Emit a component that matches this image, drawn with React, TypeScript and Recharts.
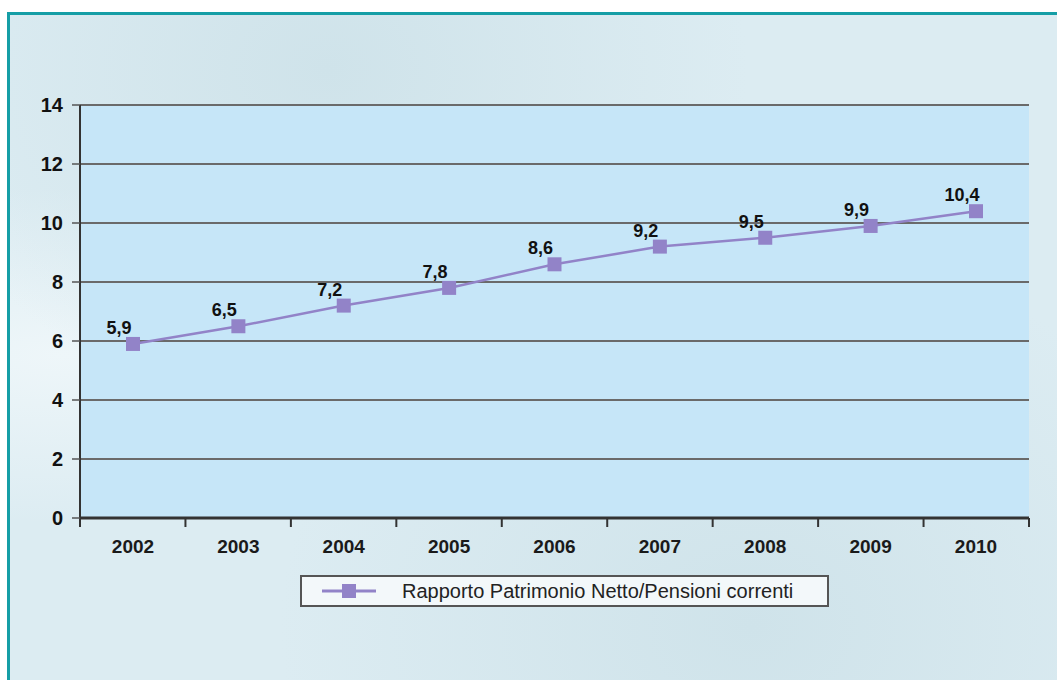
import { CartesianGrid, LabelList, Legend, Line, LineChart, XAxis, YAxis } from "recharts";

const years = ["2002", "2003", "2004", "2005", "2006", "2007", "2008", "2009", "2010"];
const ratio = [5.9, 6.5, 7.2, 7.8, 8.6, 9.2, 9.5, 9.9, 10.4];
const yTicks = [0, 2, 4, 6, 8, 10, 12, 14];
// tick marks sit between the years
const bandEdges = [-0.5, 0.5, 1.5, 2.5, 3.5, 4.5, 5.5, 6.5, 7.5, 8.5];
const seriesName = "Rapporto Patrimonio Netto/Pensioni correnti";

const data = years.map((year, i) => ({ year, idx: i, ratio: ratio[i] }));

const FONT = "'Liberation Sans', Arial, sans-serif";
const PURPLE = "#9283c8";

const Marker = (props: any) => {
  const { cx, cy } = props;
  if (cx == null || cy == null) return null;
  return <rect x={cx - 7} y={cy - 7} width={14} height={14} fill={PURPLE} />;
};

const ValueLabel = (props: any) => {
  const { x, y, value } = props;
  return (
    <text x={x - 14} y={y - 10} textAnchor="middle" fontFamily={FONT} fontWeight="bold" fontSize={18} fill="#111">
      {String(value).replace(".", ",")}
    </text>
  );
};

const LegendBox = () => (
  <div
    style={{
      width: 525,
      height: 28,
      border: "2px solid #555",
      background: "#f3f8fa",
      display: "flex",
      alignItems: "center",
      fontFamily: FONT,
      fontSize: 20,
      color: "#222",
    }}
  >
    <svg width={100} height={28}>
      <line x1={20} y1={14} x2={74} y2={14} stroke={PURPLE} strokeWidth={3} />
      <rect x={40} y={7} width={14} height={14} fill={PURPLE} />
    </svg>
    <span>{seriesName}</span>
  </div>
);

export default function App() {
  return (
    <div style={{ position: "absolute", left: 0, top: 0, width: 1057, height: 680, background: "#fff", overflow: "hidden" }}>
      <div
        style={{
          position: "absolute",
          left: 7,
          top: 12,
          width: 1060,
          height: 680,
          borderTop: "3px solid #159ea6",
          borderLeft: "3px solid #159ea6",
          background:
            "radial-gradient(ellipse at 30% 8%, #cfe3ea 0%, rgba(207,227,234,0) 40%), radial-gradient(ellipse at 70% 90%, #cfe3ea 0%, rgba(207,227,234,0) 45%), radial-gradient(ellipse at 5% 50%, #eef6f9 0%, rgba(238,246,249,0) 35%), #dcecf2",
        }}
      />
      <div style={{ position: "absolute", left: 0, top: 0 }}>
        <LineChart width={1057} height={680} data={data} margin={{ top: 105, right: 28, left: 12, bottom: 90 }}>
          <CartesianGrid vertical={false} fill="#c6e6f8" stroke="#6a6a6a" strokeWidth={2} strokeOpacity={1} />
          <XAxis
            xAxisId="band"
            dataKey="idx"
            type="number"
            domain={[-0.5, 8.5]}
            allowDataOverflow
            ticks={bandEdges}
            interval={0}
            tickFormatter={() => ""}
            tickSize={9}
            height={10}
            axisLine={{ stroke: "#333", strokeWidth: 3 }}
            tickLine={{ stroke: "#333", strokeWidth: 2 }}
          />
          <XAxis
            xAxisId="cat"
            dataKey="year"
            axisLine={false}
            tickLine={false}
            height={30}
            padding={{ left: 53, right: 53 }}
            tick={{ fontFamily: FONT, fontSize: 19, fontWeight: "bold", fill: "#1a1a1a", dy: 4 }}
          />
          <YAxis
            domain={[0, 14]}
            ticks={yTicks}
            width={68}
            tickSize={8}
            tickMargin={9}
            axisLine={{ stroke: "#333", strokeWidth: 2 }}
            tickLine={{ stroke: "#555", strokeWidth: 1.5 }}
            tick={{ fontFamily: FONT, fontSize: 20, fontWeight: "bold", fill: "#111" }}
          />
          <YAxis
            yAxisId="right"
            orientation="right"
            domain={[0, 14]}
            width={0}
            tick={false}
            tickLine={false}
            axisLine={{ stroke: "#444", strokeWidth: 3 }}
          />
          <Legend
            content={<LegendBox />}
            wrapperStyle={{ position: "absolute", left: 300, top: 575, width: 529, height: 32 }}
          />
          <Line
            xAxisId="cat"
            dataKey="ratio"
            name={seriesName}
            stroke={PURPLE}
            strokeWidth={2.5}
            dot={<Marker />}
            activeDot={false}
            isAnimationActive={false}
          >
            <LabelList dataKey="ratio" content={<ValueLabel />} />
          </Line>
        </LineChart>
      </div>
    </div>
  );
}
